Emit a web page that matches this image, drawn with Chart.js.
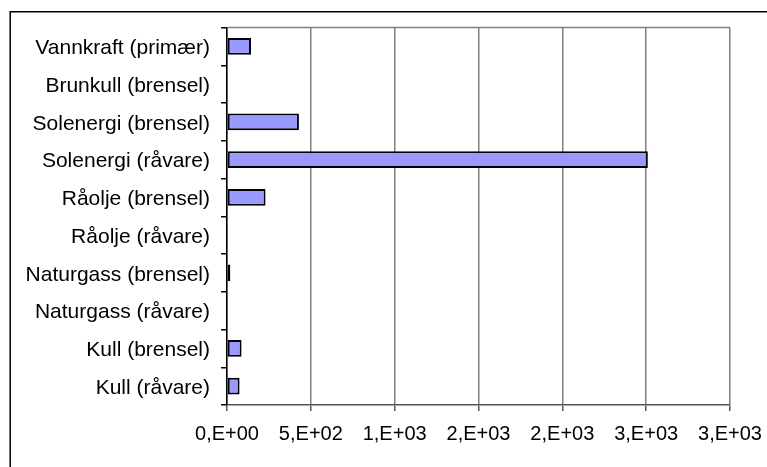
<!DOCTYPE html>
<html>
<head>
<meta charset="utf-8">
<script src="https://cdn.jsdelivr.net/npm/chart.js@4/dist/chart.umd.min.js"></script>
<style>
  html, body { margin: 0; padding: 0; background: #fff; }
  #wrap { position: relative; width: 767px; height: 467px; }
</style>
</head>
<body>
<div id="wrap"><canvas id="c" width="767" height="467"></canvas></div>
<script>
// Energikilder, top to bottom as listed
const categories = [
  'Vannkraft (primær)',
  'Brunkull (brensel)',
  'Solenergi (brensel)',
  'Solenergi (råvare)',
  'Råolje (brensel)',
  'Råolje (råvare)',
  'Naturgass (brensel)',
  'Naturgass (råvare)',
  'Kull (brensel)',
  'Kull (råvare)'
];
const values = [143, 0, 429, 2510, 230, 0, 20, 0, 87, 75];
// Axis tick labels in the workbook's own number format
const tickValues = [0, 500, 1000, 1500, 2000, 2500, 3000];
const tickLabels = ['0,E+00', '5,E+02', '1,E+03', '2,E+03', '2,E+03', '3,E+03', '3,E+03'];

const FONT = '"Liberation Sans", Arial, sans-serif';

// Outer chart frame plus the grey plot-area top edge
const framePlugin = {
  id: 'frame',
  beforeDraw(chart) {
    const ctx = chart.ctx;
    ctx.save();
    ctx.fillStyle = '#fff';
    ctx.fillRect(0, 0, chart.width, chart.height);
    ctx.strokeStyle = '#000';
    ctx.lineWidth = 1.5;
    ctx.beginPath();
    ctx.moveTo(10.2, chart.height + 2);
    ctx.lineTo(10.2, 11.8);
    ctx.lineTo(chart.width + 2, 11.8);
    ctx.stroke();
    ctx.restore();
  },
  afterDraw(chart) {
    const ctx = chart.ctx;
    const a = chart.chartArea;
    ctx.save();
    ctx.strokeStyle = '#808080';
    ctx.lineWidth = 1.5;
    ctx.beginPath();
    ctx.moveTo(a.left, a.top);
    ctx.lineTo(a.right, a.top);
    ctx.stroke();
    ctx.restore();
  }
};

new Chart(document.getElementById('c'), {
  type: 'bar',
  data: {
    labels: categories,
    datasets: [{
      data: values,
      backgroundColor: '#9999FF',
      borderColor: '#000000',
      borderWidth: 2,
      borderSkipped: false,
      categoryPercentage: 1,
      barPercentage: 0.44
    }]
  },
  options: {
    indexAxis: 'y',
    responsive: false,
    animation: false,
    devicePixelRatio: 1,
    layout: { padding: { top: 27.5, right: 37, bottom: 0, left: 0 } },
    plugins: {
      legend: { display: false },
      tooltip: { enabled: false }
    },
    scales: {
      x: {
        type: 'linear',
        min: 0,
        max: 3000,
        afterBuildTicks(scale) {
          scale.ticks = tickValues.map(v => ({ value: v }));
        },
        afterFit(scale) {
          scale.height = 62;
          scale.paddingLeft = 0;
          scale.paddingRight = 0;
        },
        ticks: {
          color: '#000',
          font: { family: FONT, size: 20 },
          padding: 11,
          maxRotation: 0,
          autoSkip: false,
          callback(value, index) { return tickLabels[index]; }
        },
        grid: {
          color: '#808080',
          lineWidth: 1.5,
          drawTicks: true,
          tickLength: 6,
          tickColor: '#555'
        },
        border: { display: true, color: '#555', width: 1.5 }
      },
      y: {
        afterFit(scale) {
          scale.width = 227;
          scale.paddingTop = 0;
          scale.paddingBottom = 0;
        },
        ticks: {
          color: '#000',
          font: { family: FONT, size: 21 },
          padding: 11,
          labelOffset: 2,
          autoSkip: false
        },
        grid: {
          offset: true,
          drawOnChartArea: false,
          drawTicks: true,
          tickLength: 6,
          tickColor: '#000',
          lineWidth: 1.5
        },
        border: { display: true, color: '#000', width: 1.5 }
      }
    }
  },
  plugins: [framePlugin]
});
</script>
</body>
</html>
